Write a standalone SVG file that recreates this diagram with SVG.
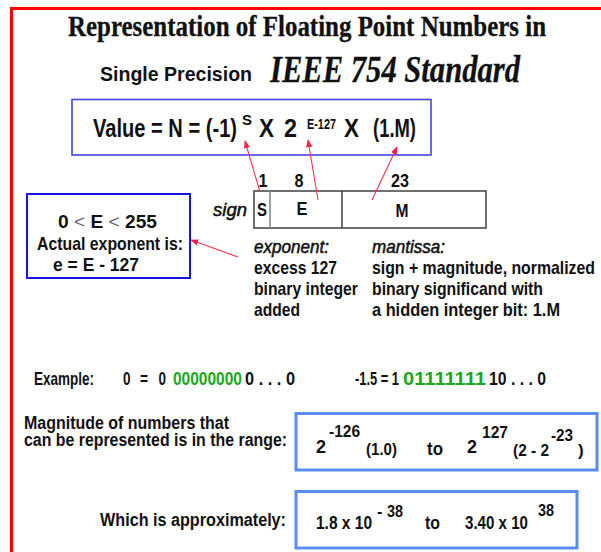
<svg xmlns="http://www.w3.org/2000/svg" width="601" height="552" viewBox="0 0 601 552">
<style>
text{font-family:"Liberation Sans",Arial,sans-serif;fill:#111;font-weight:bold;}
.serif{font-family:"Liberation Serif","Times New Roman",serif;font-weight:bold;stroke:#111;stroke-width:0.3;}
.i{font-style:italic;font-weight:normal;stroke:#111;stroke-width:0.55;}
.f18{font-size:18px;}
.f19{font-size:19px;}
.g{fill:#1aa81a;}
.lt{fill:#666;font-weight:normal;}
.conn{stroke:#ff3050;stroke-width:1.1;fill:none;marker-end:url(#ah);}
.blue3{fill:none;stroke:#5b8cf0;stroke-width:3;}
</style>
<defs>
<marker id="ah" viewBox="0 0 10 10" refX="9" refY="5" markerWidth="8" markerHeight="8" markerUnits="userSpaceOnUse" orient="auto">
<path d="M0,1 L10,5 L0,9 z" fill="#ff2040"/>
</marker>
</defs>
<rect width="601" height="552" fill="#fff"/>
<g id="frame"><path d="M11.5,552 V8.5 H601" fill="none" stroke="#ff0000" stroke-width="3"/></g>

<g id="title">
<text class="serif" x="68" y="36" font-size="30" textLength="478" lengthAdjust="spacingAndGlyphs">Representation of Floating Point Numbers in</text>
<text x="100" y="81" font-size="21" textLength="152" lengthAdjust="spacingAndGlyphs">Single Precision</text>
<text class="serif" x="270" y="82" font-size="38" font-style="italic" textLength="250" lengthAdjust="spacingAndGlyphs">IEEE 754 Standard</text>
</g>

<g id="formula">
<rect x="72" y="99.5" width="359" height="55.5" fill="none" stroke="#4444e6" stroke-width="1.6"/>
<text font-size="25" x="93" y="137" textLength="144" lengthAdjust="spacingAndGlyphs">Value = N = (-1)</text>
<text font-size="15" x="242" y="125">S</text>
<text font-size="25" x="259" y="137" textLength="15" lengthAdjust="spacingAndGlyphs">X</text>
<text font-size="25" x="284" y="137" textLength="13" lengthAdjust="spacingAndGlyphs">2</text>
<text font-size="15" x="307" y="129" textLength="29" lengthAdjust="spacingAndGlyphs">E-127</text>
<text font-size="25" x="344" y="137" textLength="15" lengthAdjust="spacingAndGlyphs">X</text>
<text font-size="25" x="373" y="137" textLength="43" lengthAdjust="spacingAndGlyphs">(1.M)</text>
</g>

<g id="bitfield">
<rect x="254" y="191" width="232" height="37" fill="none" stroke="#404040" stroke-width="1.5"/>
<line x1="270" y1="191" x2="270" y2="228" stroke="#808080" stroke-width="1.5"/>
<line x1="342" y1="191" x2="342" y2="228" stroke="#404040" stroke-width="1.5"/>
<text class="f18" x="263" y="187" text-anchor="middle" textLength="9" lengthAdjust="spacingAndGlyphs">1</text>
<text class="f18" x="299" y="187" text-anchor="middle" textLength="9" lengthAdjust="spacingAndGlyphs">8</text>
<text class="f18" x="400" y="187" text-anchor="middle" textLength="18" lengthAdjust="spacingAndGlyphs">23</text>
<text class="i" font-size="19" x="213" y="216" textLength="34" lengthAdjust="spacingAndGlyphs">sign</text>
<text class="f18" x="262" y="216" text-anchor="middle" textLength="10" lengthAdjust="spacingAndGlyphs">S</text>
<text class="f18" x="302" y="215" text-anchor="middle" textLength="11" lengthAdjust="spacingAndGlyphs">E</text>
<text class="f18" x="402" y="217" text-anchor="middle" textLength="13" lengthAdjust="spacingAndGlyphs">M</text>
</g>

<g id="exponent-desc">
<text class="i" font-size="19" x="254" y="253" textLength="75" lengthAdjust="spacingAndGlyphs">exponent:</text>
<text font-size="19" x="254" y="274" textLength="83" lengthAdjust="spacingAndGlyphs">excess 127</text>
<text font-size="19" x="254" y="295" textLength="104" lengthAdjust="spacingAndGlyphs">binary integer</text>
<text font-size="19" x="254" y="316" textLength="46" lengthAdjust="spacingAndGlyphs">added</text>
</g>

<g id="mantissa-desc">
<text class="i" font-size="19" x="372" y="253" textLength="73" lengthAdjust="spacingAndGlyphs">mantissa:</text>
<text font-size="19" x="372" y="274" textLength="223" lengthAdjust="spacingAndGlyphs">sign + magnitude, normalized</text>
<text font-size="19" x="372" y="295" textLength="171" lengthAdjust="spacingAndGlyphs">binary significand with</text>
<text font-size="19" x="372" y="316" textLength="188" lengthAdjust="spacingAndGlyphs">a hidden integer bit:  1.M</text>
</g>

<g id="exponent-box">
<rect x="27" y="194" width="163" height="84" fill="none" stroke="#1414e6" stroke-width="2"/>
<text font-size="19" x="58" y="228" textLength="99" lengthAdjust="spacingAndGlyphs">0 <tspan class="lt">&lt;</tspan> E <tspan class="lt">&lt;</tspan> 255</text>
<text font-size="19" x="37" y="250" textLength="146" lengthAdjust="spacingAndGlyphs">Actual exponent is:</text>
<text font-size="19" x="53" y="271" textLength="86" lengthAdjust="spacingAndGlyphs">e = E - 127</text>
</g>

<g id="connectors">
<line class="conn" x1="260" y1="192" x2="245" y2="141"/>
<line class="conn" x1="318" y1="200" x2="308" y2="140"/>
<line class="conn" x1="372" y1="200" x2="397" y2="147"/>
<line class="conn" x1="238" y1="257" x2="191" y2="240"/>
</g>

<g id="example">
<text class="f19" x="34" y="385" textLength="60" lengthAdjust="spacingAndGlyphs">Example:</text>
<text class="f19" y="385"><tspan x="123" textLength="7.5" lengthAdjust="spacingAndGlyphs">0</tspan><tspan x="140" textLength="8" lengthAdjust="spacingAndGlyphs">=</tspan><tspan x="158.5" textLength="7.5" lengthAdjust="spacingAndGlyphs">0</tspan></text>
<text class="f19 g" x="173" y="385" textLength="69" lengthAdjust="spacingAndGlyphs">00000000</text>
<text class="f19" x="245" y="385" textLength="50" lengthAdjust="spacingAndGlyphs">0 . . . 0</text>
<text class="f19" x="355" y="385" textLength="44" lengthAdjust="spacingAndGlyphs">-1.5 = 1</text>
<text class="f19 g" x="403" y="385" textLength="83" lengthAdjust="spacingAndGlyphs">01111111</text>
<text class="f19" x="489" y="385" textLength="57" lengthAdjust="spacingAndGlyphs">10 . . . 0</text>
</g>

<g id="range">
<text class="f18" x="24" y="429" textLength="205" lengthAdjust="spacingAndGlyphs">Magnitude of numbers that</text>
<text class="f18" x="24" y="446" textLength="263" lengthAdjust="spacingAndGlyphs">can be represented is in the range:</text>
<rect class="blue3" x="296" y="413.5" width="301" height="56.5"/>
<text font-size="18" x="316" y="453" textLength="10" lengthAdjust="spacingAndGlyphs">2</text>
<text font-size="16" x="329" y="437" textLength="31" lengthAdjust="spacingAndGlyphs">-126</text>
<text font-size="17" x="366" y="455" textLength="31" lengthAdjust="spacingAndGlyphs">(1.0)</text>
<text font-size="18" x="427" y="455" textLength="16" lengthAdjust="spacingAndGlyphs">to</text>
<text font-size="18" x="467" y="453" textLength="10" lengthAdjust="spacingAndGlyphs">2</text>
<text font-size="16" x="482" y="438" textLength="26" lengthAdjust="spacingAndGlyphs">127</text>
<text font-size="17" x="513" y="456" textLength="36" lengthAdjust="spacingAndGlyphs">(2 - 2</text>
<text font-size="16" x="551" y="441" textLength="22" lengthAdjust="spacingAndGlyphs">-23</text>
<text font-size="17" x="578" y="456">)</text>
</g>

<g id="approx">
<text class="f18" x="100" y="526" textLength="186" lengthAdjust="spacingAndGlyphs">Which is approximately:</text>
<rect class="blue3" x="296" y="491.5" width="281" height="56.5"/>
<text font-size="19" x="316" y="529" textLength="56" lengthAdjust="spacingAndGlyphs">1.8 x 10</text>
<text font-size="16" x="377" y="517">-</text>
<text font-size="16" x="387" y="517" textLength="16" lengthAdjust="spacingAndGlyphs">38</text>
<text font-size="19" x="425" y="529" textLength="15" lengthAdjust="spacingAndGlyphs">to</text>
<text font-size="19" x="465" y="529" textLength="63" lengthAdjust="spacingAndGlyphs">3.40 x 10</text>
<text font-size="16" x="538" y="516" textLength="16" lengthAdjust="spacingAndGlyphs">38</text>
</g>
</svg>
